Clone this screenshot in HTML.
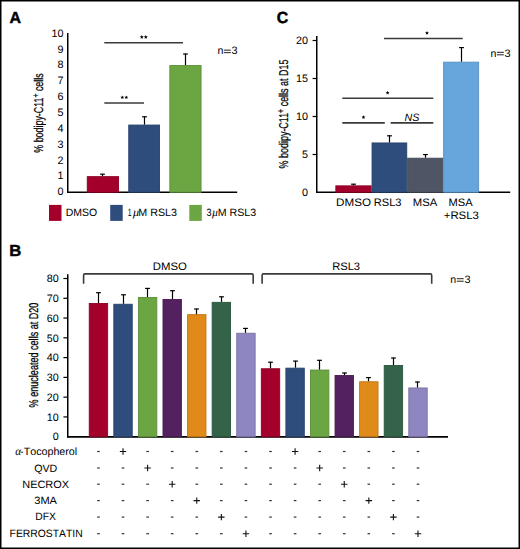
<!DOCTYPE html>
<html><head><meta charset="utf-8"><title>Figure</title><style>
html,body{margin:0;padding:0;background:#fff;}
#w{position:relative;width:520px;height:549px;overflow:hidden;background:#fff;}
svg{display:block;position:absolute;left:0;top:0;text-rendering:geometricPrecision;font-kerning:none;}
.yl{position:absolute;font-family:"Liberation Sans",sans-serif;font-size:12.8px;line-height:1;white-space:pre;transform-origin:0 0;text-rendering:geometricPrecision;color:#000;-webkit-text-stroke:0.25px #000;}
</style></head><body>
<div id="w">
<svg width="520" height="549" viewBox="0 0 520 549">
<rect x="0" y="0" width="520" height="549" fill="#fff"/>
<text x="9.60" y="22.60" font-family="Liberation Sans, sans-serif" font-weight="bold" font-style="normal" font-size="16" textLength="11.52" lengthAdjust="spacingAndGlyphs" fill="#000" stroke="#000" stroke-width="0.45">A</text>
<line x1="67.75" y1="33.00" x2="67.75" y2="193.00" stroke="#000" stroke-width="1.5"/>
<line x1="67.00" y1="192.25" x2="237.20" y2="192.25" stroke="#000" stroke-width="1.5"/>
<text x="63.60" y="195.30" font-family="Liberation Sans, sans-serif" font-size="10.8" text-anchor="end">0</text>
<text x="63.60" y="179.45" font-family="Liberation Sans, sans-serif" font-size="10.8" text-anchor="end">1</text>
<text x="63.60" y="163.59" font-family="Liberation Sans, sans-serif" font-size="10.8" text-anchor="end">2</text>
<text x="63.60" y="147.74" font-family="Liberation Sans, sans-serif" font-size="10.8" text-anchor="end">3</text>
<text x="63.60" y="131.88" font-family="Liberation Sans, sans-serif" font-size="10.8" text-anchor="end">4</text>
<text x="63.60" y="116.03" font-family="Liberation Sans, sans-serif" font-size="10.8" text-anchor="end">5</text>
<text x="63.60" y="100.17" font-family="Liberation Sans, sans-serif" font-size="10.8" text-anchor="end">6</text>
<text x="63.60" y="84.32" font-family="Liberation Sans, sans-serif" font-size="10.8" text-anchor="end">7</text>
<text x="63.60" y="68.46" font-family="Liberation Sans, sans-serif" font-size="10.8" text-anchor="end">8</text>
<text x="63.60" y="52.61" font-family="Liberation Sans, sans-serif" font-size="10.8" text-anchor="end">9</text>
<text x="63.60" y="36.75" font-family="Liberation Sans, sans-serif" font-size="10.8" text-anchor="end">10</text>
<rect x="87.25" y="176.65" width="31.30" height="15.60" fill="#A3002B" stroke="#8C0024" stroke-width="0.9"/>
<line x1="102.50" y1="173.90" x2="102.50" y2="176.20" stroke="#000" stroke-width="1.2"/>
<line x1="100.10" y1="174.20" x2="104.90" y2="174.20" stroke="#000" stroke-width="1.2"/>
<rect x="128.75" y="125.05" width="30.80" height="67.20" fill="#2E4D7D" stroke="#27426B" stroke-width="0.9"/>
<line x1="144.50" y1="116.50" x2="144.50" y2="124.60" stroke="#000" stroke-width="1.2"/>
<line x1="142.10" y1="116.80" x2="146.90" y2="116.80" stroke="#000" stroke-width="1.2"/>
<rect x="169.85" y="65.55" width="31.20" height="126.70" fill="#6BA643" stroke="#5C8E39" stroke-width="0.9"/>
<line x1="185.50" y1="53.70" x2="185.50" y2="65.10" stroke="#000" stroke-width="1.2"/>
<line x1="183.10" y1="54.00" x2="187.90" y2="54.00" stroke="#000" stroke-width="1.2"/>
<line x1="104.30" y1="42.80" x2="183.00" y2="42.80" stroke="#3a3a3a" stroke-width="1.5"/>
<polygon points="141.80,35.10 142.36,36.33 143.70,36.48 142.70,37.39 142.98,38.72 141.80,38.05 140.62,38.72 140.90,37.39 139.90,36.48 141.24,36.33" fill="#000"/>
<polygon points="145.80,35.10 146.36,36.33 147.70,36.48 146.70,37.39 146.98,38.72 145.80,38.05 144.62,38.72 144.90,37.39 143.90,36.48 145.24,36.33" fill="#000"/>
<line x1="104.30" y1="103.00" x2="144.00" y2="103.00" stroke="#3a3a3a" stroke-width="1.5"/>
<polygon points="122.30,95.40 122.86,96.63 124.20,96.78 123.20,97.69 123.48,99.02 122.30,98.35 121.12,99.02 121.40,97.69 120.40,96.78 121.74,96.63" fill="#000"/>
<polygon points="126.30,95.40 126.86,96.63 128.20,96.78 127.20,97.69 127.48,99.02 126.30,98.35 125.12,99.02 125.40,97.69 124.40,96.78 125.74,96.63" fill="#000"/>
<text x="217.40" y="54.35" font-family="Liberation Sans, sans-serif" font-size="10.6">n</text>
<rect x="223.90" y="49.65" width="6.90" height="1.00" fill="#222"/>
<rect x="223.90" y="52.15" width="6.90" height="1.00" fill="#222"/>
<text x="237.60" y="54.35" font-family="Liberation Sans, sans-serif" font-size="10.9" text-anchor="end">3</text>
<rect x="49.00" y="204.90" width="12.50" height="16.00" fill="#A3002B"/>
<rect x="110.20" y="204.90" width="12.50" height="16.00" fill="#2E4D7D"/>
<rect x="189.30" y="204.90" width="12.50" height="16.00" fill="#6BA643"/>
<text x="65.74" y="216.20" font-family="Liberation Sans, sans-serif" font-weight="normal" font-style="normal" font-size="10.6" textLength="31.36" lengthAdjust="spacingAndGlyphs" fill="#000" >DMSO</text>
<text x="127.67" y="215.90" font-family="Liberation Sans, sans-serif" font-weight="normal" font-style="normal" font-size="10.6" textLength="3.87" lengthAdjust="spacingAndGlyphs" fill="#000" >1</text>
<text x="132.64" y="215.90" font-family="Liberation Serif, serif" font-weight="normal" font-style="italic" font-size="11.5" textLength="7.09" lengthAdjust="spacingAndGlyphs" fill="#000" >µ</text>
<text x="138.32" y="215.90" font-family="Liberation Sans, sans-serif" font-weight="normal" font-style="normal" font-size="10.6" textLength="38.75" lengthAdjust="spacingAndGlyphs" fill="#000" >M RSL3</text>
<text x="206.45" y="215.90" font-family="Liberation Sans, sans-serif" font-weight="normal" font-style="normal" font-size="10.6" textLength="5.04" lengthAdjust="spacingAndGlyphs" fill="#000" >3</text>
<text x="211.75" y="215.90" font-family="Liberation Serif, serif" font-weight="normal" font-style="italic" font-size="11.5" textLength="6.62" lengthAdjust="spacingAndGlyphs" fill="#000" >µ</text>
<text x="217.73" y="215.90" font-family="Liberation Sans, sans-serif" font-weight="normal" font-style="normal" font-size="10.6" textLength="38.44" lengthAdjust="spacingAndGlyphs" fill="#000" >M RSL3</text>
<text x="276.75" y="22.90" font-family="Liberation Sans, sans-serif" font-weight="bold" font-style="normal" font-size="16" textLength="11.49" lengthAdjust="spacingAndGlyphs" fill="#000" stroke="#000" stroke-width="0.45">C</text>
<line x1="316.75" y1="36.10" x2="316.75" y2="193.00" stroke="#000" stroke-width="1.5"/>
<line x1="316.00" y1="192.25" x2="510.20" y2="192.25" stroke="#000" stroke-width="1.5"/>
<text x="308.00" y="195.70" font-family="Liberation Sans, sans-serif" font-size="10.8" text-anchor="end">0</text>
<line x1="312.60" y1="154.50" x2="317.00" y2="154.50" stroke="#000" stroke-width="1.2"/>
<text x="308.00" y="157.70" font-family="Liberation Sans, sans-serif" font-size="10.8" text-anchor="end">5</text>
<line x1="312.60" y1="116.50" x2="317.00" y2="116.50" stroke="#000" stroke-width="1.2"/>
<text x="308.00" y="119.70" font-family="Liberation Sans, sans-serif" font-size="10.8" text-anchor="end">10</text>
<line x1="312.60" y1="78.50" x2="317.00" y2="78.50" stroke="#000" stroke-width="1.2"/>
<text x="308.00" y="81.70" font-family="Liberation Sans, sans-serif" font-size="10.8" text-anchor="end">15</text>
<line x1="312.60" y1="40.50" x2="317.00" y2="40.50" stroke="#000" stroke-width="1.2"/>
<text x="308.00" y="43.70" font-family="Liberation Sans, sans-serif" font-size="10.8" text-anchor="end">20</text>
<rect x="335.85" y="185.85" width="35.30" height="6.40" fill="#A3002B" stroke="#8C0024" stroke-width="0.9"/>
<line x1="353.50" y1="183.90" x2="353.50" y2="185.40" stroke="#000" stroke-width="1.2"/>
<line x1="351.10" y1="184.20" x2="355.90" y2="184.20" stroke="#000" stroke-width="1.2"/>
<rect x="372.05" y="142.95" width="34.70" height="49.30" fill="#2E4D7D" stroke="#27426B" stroke-width="0.9"/>
<line x1="389.50" y1="135.50" x2="389.50" y2="142.50" stroke="#000" stroke-width="1.2"/>
<line x1="387.10" y1="135.80" x2="391.90" y2="135.80" stroke="#000" stroke-width="1.2"/>
<rect x="407.65" y="158.20" width="35.10" height="34.05" fill="#4E5565" stroke="#434956" stroke-width="0.9"/>
<line x1="425.50" y1="154.25" x2="425.50" y2="157.75" stroke="#000" stroke-width="1.2"/>
<line x1="423.10" y1="154.55" x2="427.90" y2="154.55" stroke="#000" stroke-width="1.2"/>
<rect x="443.65" y="62.15" width="35.00" height="130.10" fill="#66A6DC" stroke="#578EBD" stroke-width="0.9"/>
<line x1="461.50" y1="47.30" x2="461.50" y2="61.70" stroke="#000" stroke-width="1.2"/>
<line x1="459.10" y1="47.60" x2="463.90" y2="47.60" stroke="#000" stroke-width="1.2"/>
<line x1="384.00" y1="38.50" x2="462.70" y2="38.50" stroke="#3a3a3a" stroke-width="1.5"/>
<polygon points="427.00,31.00 427.56,32.23 428.90,32.38 427.90,33.29 428.18,34.62 427.00,33.95 425.82,34.62 426.10,33.29 425.10,32.38 426.44,32.23" fill="#000"/>
<line x1="342.30" y1="98.30" x2="433.30" y2="98.30" stroke="#3a3a3a" stroke-width="1.5"/>
<polygon points="387.60,90.80 388.16,92.03 389.50,92.18 388.50,93.09 388.78,94.42 387.60,93.75 386.42,94.42 386.70,93.09 385.70,92.18 387.04,92.03" fill="#000"/>
<line x1="342.30" y1="122.90" x2="384.80" y2="122.90" stroke="#3a3a3a" stroke-width="1.6"/>
<polygon points="363.50,115.20 364.06,116.43 365.40,116.58 364.40,117.49 364.68,118.82 363.50,118.15 362.32,118.82 362.60,117.49 361.60,116.58 362.94,116.43" fill="#000"/>
<line x1="390.60" y1="122.90" x2="433.30" y2="122.90" stroke="#3a3a3a" stroke-width="1.6"/>
<text x="404.47" y="120.80" font-family="Liberation Sans, sans-serif" font-weight="normal" font-style="italic" font-size="10.6" textLength="14.84" lengthAdjust="spacingAndGlyphs" fill="#000" >NS</text>
<text x="490.40" y="56.50" font-family="Liberation Sans, sans-serif" font-size="10.6">n</text>
<rect x="496.90" y="51.80" width="6.90" height="1.00" fill="#222"/>
<rect x="496.90" y="54.30" width="6.90" height="1.00" fill="#222"/>
<text x="510.60" y="56.50" font-family="Liberation Sans, sans-serif" font-size="10.9" text-anchor="end">3</text>
<text x="336.05" y="206.10" font-family="Liberation Sans, sans-serif" font-weight="normal" font-style="normal" font-size="10.9" textLength="34.91" lengthAdjust="spacingAndGlyphs" fill="#000" >DMSO</text>
<text x="373.79" y="206.10" font-family="Liberation Sans, sans-serif" font-weight="normal" font-style="normal" font-size="10.9" textLength="27.69" lengthAdjust="spacingAndGlyphs" fill="#000" >RSL3</text>
<text x="412.77" y="205.90" font-family="Liberation Sans, sans-serif" font-weight="normal" font-style="normal" font-size="10.9" textLength="24.45" lengthAdjust="spacingAndGlyphs" fill="#000" >MSA</text>
<text x="448.59" y="205.90" font-family="Liberation Sans, sans-serif" font-weight="normal" font-style="normal" font-size="10.9" textLength="24.14" lengthAdjust="spacingAndGlyphs" fill="#000" >MSA</text>
<text x="443.74" y="218.50" font-family="Liberation Sans, sans-serif" font-weight="normal" font-style="normal" font-size="10.9" textLength="35.16" lengthAdjust="spacingAndGlyphs" fill="#000" >+RSL3</text>
<text x="9.38" y="255.80" font-family="Liberation Sans, sans-serif" font-weight="bold" font-style="normal" font-size="16" textLength="12.08" lengthAdjust="spacingAndGlyphs" fill="#000" stroke="#000" stroke-width="0.45">B</text>
<line x1="67.75" y1="274.30" x2="67.75" y2="437.60" stroke="#000" stroke-width="1.5"/>
<line x1="67.00" y1="436.80" x2="448.00" y2="436.80" stroke="#000" stroke-width="1.7"/>
<text x="58.80" y="440.45" font-family="Liberation Sans, sans-serif" font-size="10.8" text-anchor="end">0</text>
<line x1="63.40" y1="416.93" x2="67.70" y2="416.93" stroke="#000" stroke-width="1.2"/>
<text x="58.80" y="420.68" font-family="Liberation Sans, sans-serif" font-size="10.8" text-anchor="end">10</text>
<line x1="63.40" y1="397.15" x2="67.70" y2="397.15" stroke="#000" stroke-width="1.2"/>
<text x="58.80" y="400.90" font-family="Liberation Sans, sans-serif" font-size="10.8" text-anchor="end">20</text>
<line x1="63.40" y1="377.38" x2="67.70" y2="377.38" stroke="#000" stroke-width="1.2"/>
<text x="58.80" y="381.12" font-family="Liberation Sans, sans-serif" font-size="10.8" text-anchor="end">30</text>
<line x1="63.40" y1="357.60" x2="67.70" y2="357.60" stroke="#000" stroke-width="1.2"/>
<text x="58.80" y="361.35" font-family="Liberation Sans, sans-serif" font-size="10.8" text-anchor="end">40</text>
<line x1="63.40" y1="337.82" x2="67.70" y2="337.82" stroke="#000" stroke-width="1.2"/>
<text x="58.80" y="341.57" font-family="Liberation Sans, sans-serif" font-size="10.8" text-anchor="end">50</text>
<line x1="63.40" y1="318.05" x2="67.70" y2="318.05" stroke="#000" stroke-width="1.2"/>
<text x="58.80" y="321.80" font-family="Liberation Sans, sans-serif" font-size="10.8" text-anchor="end">60</text>
<line x1="63.40" y1="298.27" x2="67.70" y2="298.27" stroke="#000" stroke-width="1.2"/>
<text x="58.80" y="302.02" font-family="Liberation Sans, sans-serif" font-size="10.8" text-anchor="end">70</text>
<line x1="63.40" y1="278.50" x2="67.70" y2="278.50" stroke="#000" stroke-width="1.2"/>
<text x="58.80" y="282.25" font-family="Liberation Sans, sans-serif" font-size="10.8" text-anchor="end">80</text>
<rect x="89.25" y="303.45" width="18.40" height="133.35" fill="#A3002B" stroke="#8C0024" stroke-width="0.9"/>
<line x1="98.50" y1="292.40" x2="98.50" y2="303.00" stroke="#000" stroke-width="1.2"/>
<line x1="96.10" y1="292.70" x2="100.90" y2="292.70" stroke="#000" stroke-width="1.2"/>
<rect x="113.83" y="304.25" width="18.40" height="132.55" fill="#2E4D7D" stroke="#27426B" stroke-width="0.9"/>
<line x1="123.50" y1="294.50" x2="123.50" y2="303.80" stroke="#000" stroke-width="1.2"/>
<line x1="121.10" y1="294.80" x2="125.90" y2="294.80" stroke="#000" stroke-width="1.2"/>
<rect x="138.41" y="297.45" width="18.40" height="139.35" fill="#6BA643" stroke="#5C8E39" stroke-width="0.9"/>
<line x1="147.50" y1="288.10" x2="147.50" y2="297.00" stroke="#000" stroke-width="1.2"/>
<line x1="145.10" y1="288.40" x2="149.90" y2="288.40" stroke="#000" stroke-width="1.2"/>
<rect x="162.99" y="299.45" width="18.40" height="137.35" fill="#53215F" stroke="#471C51" stroke-width="0.9"/>
<line x1="172.50" y1="290.40" x2="172.50" y2="299.00" stroke="#000" stroke-width="1.2"/>
<line x1="170.10" y1="290.70" x2="174.90" y2="290.70" stroke="#000" stroke-width="1.2"/>
<rect x="187.57" y="314.65" width="18.40" height="122.15" fill="#E08A1A" stroke="#C07616" stroke-width="0.9"/>
<line x1="196.50" y1="308.70" x2="196.50" y2="314.20" stroke="#000" stroke-width="1.2"/>
<line x1="194.10" y1="309.00" x2="198.90" y2="309.00" stroke="#000" stroke-width="1.2"/>
<rect x="212.15" y="302.35" width="18.40" height="134.45" fill="#33644A" stroke="#2B563F" stroke-width="0.9"/>
<line x1="221.50" y1="296.50" x2="221.50" y2="301.90" stroke="#000" stroke-width="1.2"/>
<line x1="219.10" y1="296.80" x2="223.90" y2="296.80" stroke="#000" stroke-width="1.2"/>
<rect x="236.73" y="333.25" width="18.40" height="103.55" fill="#8D86C0" stroke="#7973A5" stroke-width="0.9"/>
<line x1="245.50" y1="328.10" x2="245.50" y2="332.80" stroke="#000" stroke-width="1.2"/>
<line x1="243.10" y1="328.40" x2="247.90" y2="328.40" stroke="#000" stroke-width="1.2"/>
<rect x="261.31" y="368.75" width="18.40" height="68.05" fill="#A3002B" stroke="#8C0024" stroke-width="0.9"/>
<line x1="270.50" y1="361.90" x2="270.50" y2="368.30" stroke="#000" stroke-width="1.2"/>
<line x1="268.10" y1="362.20" x2="272.90" y2="362.20" stroke="#000" stroke-width="1.2"/>
<rect x="285.89" y="368.15" width="18.40" height="68.65" fill="#2E4D7D" stroke="#27426B" stroke-width="0.9"/>
<line x1="295.50" y1="360.80" x2="295.50" y2="367.70" stroke="#000" stroke-width="1.2"/>
<line x1="293.10" y1="361.10" x2="297.90" y2="361.10" stroke="#000" stroke-width="1.2"/>
<rect x="310.47" y="370.05" width="18.40" height="66.75" fill="#6BA643" stroke="#5C8E39" stroke-width="0.9"/>
<line x1="319.50" y1="360.00" x2="319.50" y2="369.60" stroke="#000" stroke-width="1.2"/>
<line x1="317.10" y1="360.30" x2="321.90" y2="360.30" stroke="#000" stroke-width="1.2"/>
<rect x="335.05" y="375.45" width="18.40" height="61.35" fill="#53215F" stroke="#471C51" stroke-width="0.9"/>
<line x1="344.50" y1="372.70" x2="344.50" y2="375.00" stroke="#000" stroke-width="1.2"/>
<line x1="342.10" y1="373.00" x2="346.90" y2="373.00" stroke="#000" stroke-width="1.2"/>
<rect x="359.63" y="381.75" width="18.40" height="55.05" fill="#E08A1A" stroke="#C07616" stroke-width="0.9"/>
<line x1="368.50" y1="377.30" x2="368.50" y2="381.30" stroke="#000" stroke-width="1.2"/>
<line x1="366.10" y1="377.60" x2="370.90" y2="377.60" stroke="#000" stroke-width="1.2"/>
<rect x="384.21" y="365.45" width="18.40" height="71.35" fill="#33644A" stroke="#2B563F" stroke-width="0.9"/>
<line x1="393.50" y1="357.70" x2="393.50" y2="365.00" stroke="#000" stroke-width="1.2"/>
<line x1="391.10" y1="358.00" x2="395.90" y2="358.00" stroke="#000" stroke-width="1.2"/>
<rect x="408.79" y="387.95" width="18.40" height="48.85" fill="#8D86C0" stroke="#7973A5" stroke-width="0.9"/>
<line x1="417.50" y1="381.70" x2="417.50" y2="387.50" stroke="#000" stroke-width="1.2"/>
<line x1="415.10" y1="382.00" x2="419.90" y2="382.00" stroke="#000" stroke-width="1.2"/>
<path d="M83.6 283.8 L83.6 275.3 Q83.6 273.9 85.0 273.9 L251.79999999999998 273.9 Q253.2 273.9 253.2 275.3 L253.2 283.8" fill="none" stroke="#3a3a3a" stroke-width="1.6"/>
<path d="M262.1 283.8 L262.1 275.3 Q262.1 273.9 263.5 273.9 L430.3 273.9 Q431.7 273.9 431.7 275.3 L431.7 283.8" fill="none" stroke="#3a3a3a" stroke-width="1.6"/>
<text x="152.77" y="269.60" font-family="Liberation Sans, sans-serif" font-weight="normal" font-style="normal" font-size="10.9" textLength="34.08" lengthAdjust="spacingAndGlyphs" fill="#000" >DMSO</text>
<text x="332.18" y="269.70" font-family="Liberation Sans, sans-serif" font-weight="normal" font-style="normal" font-size="10.9" textLength="27.91" lengthAdjust="spacingAndGlyphs" fill="#000" >RSL3</text>
<text x="450.30" y="282.90" font-family="Liberation Sans, sans-serif" font-size="10.6">n</text>
<rect x="456.80" y="278.20" width="6.90" height="1.00" fill="#222"/>
<rect x="456.80" y="280.70" width="6.90" height="1.00" fill="#222"/>
<text x="470.50" y="282.90" font-family="Liberation Sans, sans-serif" font-size="10.9" text-anchor="end">3</text>
<text x="15.17" y="454.90" font-family="Liberation Serif, serif" font-weight="normal" font-style="italic" font-size="11.8" textLength="5.85" lengthAdjust="spacingAndGlyphs" fill="#000" >α</text>
<text x="20.12" y="454.90" font-family="Liberation Sans, sans-serif" font-weight="normal" font-style="normal" font-size="10.6" textLength="57.09" lengthAdjust="spacingAndGlyphs" fill="#000" >-Tocopherol</text>
<text x="34.19" y="471.50" font-family="Liberation Sans, sans-serif" font-weight="normal" font-style="normal" font-size="10.6" textLength="23.12" lengthAdjust="spacingAndGlyphs" fill="#000" >QVD</text>
<text x="22.30" y="487.60" font-family="Liberation Sans, sans-serif" font-weight="normal" font-style="normal" font-size="10.6" textLength="46.73" lengthAdjust="spacingAndGlyphs" fill="#000" >NECROX</text>
<text x="34.28" y="504.20" font-family="Liberation Sans, sans-serif" font-weight="normal" font-style="normal" font-size="10.6" textLength="22.74" lengthAdjust="spacingAndGlyphs" fill="#000" >3MA</text>
<text x="35.35" y="520.30" font-family="Liberation Sans, sans-serif" font-weight="normal" font-style="normal" font-size="10.6" textLength="20.66" lengthAdjust="spacingAndGlyphs" fill="#000" >DFX</text>
<text x="9.55" y="536.90" font-family="Liberation Sans, sans-serif" font-weight="normal" font-style="normal" font-size="10.6" textLength="73.20" lengthAdjust="spacingAndGlyphs" fill="#000" >FERROSTATIN</text>
<rect x="97.15" y="450.90" width="2.60" height="1.20" fill="#333"/>
<path d="M119.83 451.50H126.23M123.03 448.30V454.70" stroke="#111" stroke-width="1.1"/>
<rect x="146.31" y="450.90" width="2.60" height="1.20" fill="#333"/>
<rect x="170.89" y="450.90" width="2.60" height="1.20" fill="#333"/>
<rect x="195.47" y="450.90" width="2.60" height="1.20" fill="#333"/>
<rect x="220.05" y="450.90" width="2.60" height="1.20" fill="#333"/>
<rect x="244.63" y="450.90" width="2.60" height="1.20" fill="#333"/>
<rect x="269.21" y="450.90" width="2.60" height="1.20" fill="#333"/>
<path d="M291.89 451.50H298.29M295.09 448.30V454.70" stroke="#111" stroke-width="1.1"/>
<rect x="318.37" y="450.90" width="2.60" height="1.20" fill="#333"/>
<rect x="342.95" y="450.90" width="2.60" height="1.20" fill="#333"/>
<rect x="367.53" y="450.90" width="2.60" height="1.20" fill="#333"/>
<rect x="392.11" y="450.90" width="2.60" height="1.20" fill="#333"/>
<rect x="416.69" y="450.90" width="2.60" height="1.20" fill="#333"/>
<rect x="97.15" y="467.40" width="2.60" height="1.20" fill="#333"/>
<rect x="121.73" y="467.40" width="2.60" height="1.20" fill="#333"/>
<path d="M144.41 468.00H150.81M147.61 464.80V471.20" stroke="#111" stroke-width="1.1"/>
<rect x="170.89" y="467.40" width="2.60" height="1.20" fill="#333"/>
<rect x="195.47" y="467.40" width="2.60" height="1.20" fill="#333"/>
<rect x="220.05" y="467.40" width="2.60" height="1.20" fill="#333"/>
<rect x="244.63" y="467.40" width="2.60" height="1.20" fill="#333"/>
<rect x="269.21" y="467.40" width="2.60" height="1.20" fill="#333"/>
<rect x="293.79" y="467.40" width="2.60" height="1.20" fill="#333"/>
<path d="M316.47 468.00H322.87M319.67 464.80V471.20" stroke="#111" stroke-width="1.1"/>
<rect x="342.95" y="467.40" width="2.60" height="1.20" fill="#333"/>
<rect x="367.53" y="467.40" width="2.60" height="1.20" fill="#333"/>
<rect x="392.11" y="467.40" width="2.60" height="1.20" fill="#333"/>
<rect x="416.69" y="467.40" width="2.60" height="1.20" fill="#333"/>
<rect x="97.15" y="483.60" width="2.60" height="1.20" fill="#333"/>
<rect x="121.73" y="483.60" width="2.60" height="1.20" fill="#333"/>
<rect x="146.31" y="483.60" width="2.60" height="1.20" fill="#333"/>
<path d="M168.99 484.20H175.39M172.19 481.00V487.40" stroke="#111" stroke-width="1.1"/>
<rect x="195.47" y="483.60" width="2.60" height="1.20" fill="#333"/>
<rect x="220.05" y="483.60" width="2.60" height="1.20" fill="#333"/>
<rect x="244.63" y="483.60" width="2.60" height="1.20" fill="#333"/>
<rect x="269.21" y="483.60" width="2.60" height="1.20" fill="#333"/>
<rect x="293.79" y="483.60" width="2.60" height="1.20" fill="#333"/>
<rect x="318.37" y="483.60" width="2.60" height="1.20" fill="#333"/>
<path d="M341.05 484.20H347.45M344.25 481.00V487.40" stroke="#111" stroke-width="1.1"/>
<rect x="367.53" y="483.60" width="2.60" height="1.20" fill="#333"/>
<rect x="392.11" y="483.60" width="2.60" height="1.20" fill="#333"/>
<rect x="416.69" y="483.60" width="2.60" height="1.20" fill="#333"/>
<rect x="97.15" y="500.00" width="2.60" height="1.20" fill="#333"/>
<rect x="121.73" y="500.00" width="2.60" height="1.20" fill="#333"/>
<rect x="146.31" y="500.00" width="2.60" height="1.20" fill="#333"/>
<rect x="170.89" y="500.00" width="2.60" height="1.20" fill="#333"/>
<path d="M193.57 500.60H199.97M196.77 497.40V503.80" stroke="#111" stroke-width="1.1"/>
<rect x="220.05" y="500.00" width="2.60" height="1.20" fill="#333"/>
<rect x="244.63" y="500.00" width="2.60" height="1.20" fill="#333"/>
<rect x="269.21" y="500.00" width="2.60" height="1.20" fill="#333"/>
<rect x="293.79" y="500.00" width="2.60" height="1.20" fill="#333"/>
<rect x="318.37" y="500.00" width="2.60" height="1.20" fill="#333"/>
<rect x="342.95" y="500.00" width="2.60" height="1.20" fill="#333"/>
<path d="M365.63 500.60H372.03M368.83 497.40V503.80" stroke="#111" stroke-width="1.1"/>
<rect x="392.11" y="500.00" width="2.60" height="1.20" fill="#333"/>
<rect x="416.69" y="500.00" width="2.60" height="1.20" fill="#333"/>
<rect x="97.15" y="516.50" width="2.60" height="1.20" fill="#333"/>
<rect x="121.73" y="516.50" width="2.60" height="1.20" fill="#333"/>
<rect x="146.31" y="516.50" width="2.60" height="1.20" fill="#333"/>
<rect x="170.89" y="516.50" width="2.60" height="1.20" fill="#333"/>
<rect x="195.47" y="516.50" width="2.60" height="1.20" fill="#333"/>
<path d="M218.15 517.10H224.55M221.35 513.90V520.30" stroke="#111" stroke-width="1.1"/>
<rect x="244.63" y="516.50" width="2.60" height="1.20" fill="#333"/>
<rect x="269.21" y="516.50" width="2.60" height="1.20" fill="#333"/>
<rect x="293.79" y="516.50" width="2.60" height="1.20" fill="#333"/>
<rect x="318.37" y="516.50" width="2.60" height="1.20" fill="#333"/>
<rect x="342.95" y="516.50" width="2.60" height="1.20" fill="#333"/>
<rect x="367.53" y="516.50" width="2.60" height="1.20" fill="#333"/>
<path d="M390.21 517.10H396.61M393.41 513.90V520.30" stroke="#111" stroke-width="1.1"/>
<rect x="416.69" y="516.50" width="2.60" height="1.20" fill="#333"/>
<rect x="97.15" y="533.10" width="2.60" height="1.20" fill="#333"/>
<rect x="121.73" y="533.10" width="2.60" height="1.20" fill="#333"/>
<rect x="146.31" y="533.10" width="2.60" height="1.20" fill="#333"/>
<rect x="170.89" y="533.10" width="2.60" height="1.20" fill="#333"/>
<rect x="195.47" y="533.10" width="2.60" height="1.20" fill="#333"/>
<rect x="220.05" y="533.10" width="2.60" height="1.20" fill="#333"/>
<path d="M242.73 533.70H249.13M245.93 530.50V536.90" stroke="#111" stroke-width="1.1"/>
<rect x="269.21" y="533.10" width="2.60" height="1.20" fill="#333"/>
<rect x="293.79" y="533.10" width="2.60" height="1.20" fill="#333"/>
<rect x="318.37" y="533.10" width="2.60" height="1.20" fill="#333"/>
<rect x="342.95" y="533.10" width="2.60" height="1.20" fill="#333"/>
<rect x="367.53" y="533.10" width="2.60" height="1.20" fill="#333"/>
<rect x="392.11" y="533.10" width="2.60" height="1.20" fill="#333"/>
<path d="M414.79 533.70H421.19M417.99 530.50V536.90" stroke="#111" stroke-width="1.1"/>
<rect x="0.75" y="0.75" width="518.5" height="547.5" fill="none" stroke="#000" stroke-width="1.5"/>
</svg>
<div class="yl" style="left:33.16px;top:112.7px;transform:rotate(-90deg) scaleX(0.6932) translateX(-50%);">% bodipy-C11<span style="font-size:10.0px;position:relative;top:-4.2px">+</span> cells</div>
<div class="yl" style="left:278.16px;top:114.25px;transform:rotate(-90deg) scaleX(0.6989) translateX(-50%);">% bodipy-C11<span style="font-size:10.0px;position:relative;top:-4.2px">+</span> cells at D15</div>
<div class="yl" style="left:28.16px;top:355.4px;transform:rotate(-90deg) scaleX(0.7081) translateX(-50%);">% enucleated cells at D20</div>
</div>
</body></html>
